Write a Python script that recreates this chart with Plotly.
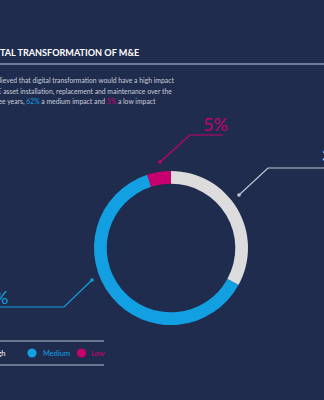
import plotly.graph_objects as go

# Impact of digital transformation on M&E asset work
categories = ["High", "Medium", "Low"]
shares = [33, 62, 5]
colors = ["#dcdcdc", "#12a0e3", "#c8006e"]

BG = "#1f2c4e"
TEXT = "#c9cdd9"
FONT = "Lato"

fig = go.Figure()

fig.add_trace(go.Pie(
    labels=categories,
    values=shares,
    hole=0.835,
    sort=False,
    direction="clockwise",
    rotation=0,
    marker=dict(colors=colors, line=dict(width=0)),
    textinfo="none",
    hoverinfo="label+percent",
    showlegend=False,
    domain=dict(x=[94 / 324, 248 / 324], y=[75 / 400, 229 / 400]),
))

shapes = []
annotations = []

# Title and rule
annotations.append(dict(x=141, y=52, xref="x", yref="y", xanchor="right", yanchor="middle",
                        text="<b>DIGITAL TRANSFORMATION OF M&amp;E</b>", showarrow=False,
                        font=dict(family=FONT, size=9.1, color="#ffffff")))
shapes.append(dict(type="line", x0=0, x1=324, y0=64, y1=64, xref="x", yref="y",
                   line=dict(color="#8d96b0", width=1.5)))

# Body copy
body = [
    ("33% believed that digital transformation would have a high impact", 176, 80),
    ("on M&amp;E asset installation, replacement and maintenance over the", 174, 91),
    ("next three years, <span style='color:#12a0e3'>62%</span> a medium impact and "
     "<span style='color:#c8006e'>5%</span> a low impact", 158, 101),
]
for txt, xr, yy in body:
    annotations.append(dict(x=xr, y=yy, xref="x", yref="y", xanchor="right", yanchor="middle",
                            text=txt, showarrow=False,
                            font=dict(family=FONT, size=6.8, color=TEXT)))

# Callouts: (label, line colour, dot, elbow, line end, text position, anchor, text colour)
callouts = [
    (f"{shares[2]}%", colors[2], (160, 162), (190, 135), (223, 135), (215, 124), "center", "#c8006e"),
    (f"{shares[0]}%", "#c2c8d8", (239, 195), (268, 168), (330, 168), (320, 155), "left", "#e6e8ee"),
    (f"{shares[1]}%", colors[1], (92, 280), (64, 307), (-10, 307), (10, 297), "right", colors[1]),
]
for label, lc, dot, elbow, end, tpos, anchor, tc in callouts:
    shapes.append(dict(type="path", xref="x", yref="y",
                       path=f"M {dot[0]} {dot[1]} L {elbow[0]} {elbow[1]} L {end[0]} {end[1]}",
                       line=dict(color=lc, width=1.2)))
    shapes.append(dict(type="circle", xref="x", yref="y",
                       x0=dot[0] - 1.8, x1=dot[0] + 1.8, y0=dot[1] - 1.8, y1=dot[1] + 1.8,
                       fillcolor=lc, line=dict(width=0)))
    annotations.append(dict(x=tpos[0], y=tpos[1], xref="x", yref="y", xanchor=anchor,
                            yanchor="middle", text=label, showarrow=False,
                            font=dict(family=FONT, size=18, color=tc)))

# Legend strip
for yy in (341, 365):
    shapes.append(dict(type="line", x0=0, x1=104, y0=yy, y1=yy, xref="x", yref="y",
                       line=dict(color="#b8bccb", width=1)))
legend_items = [
    (categories[0], "#ffffff", colors[0], -10, 7.5),
    (categories[1], colors[1], colors[1], 32, 40.5),
    (categories[2], colors[2], colors[2], 81.5, 89),
]
for name, tcol, ccol, cx, tx in legend_items:
    shapes.append(dict(type="circle", xref="x", yref="y",
                       x0=cx - 4.6, x1=cx + 4.6, y0=353 - 4.6, y1=353 + 4.6,
                       fillcolor=ccol, line=dict(width=0)))
    anchor = "right" if name == categories[0] else "left"
    annotations.append(dict(x=tx, y=353, xref="x", yref="y", xanchor=anchor, yanchor="middle",
                            text=name, showarrow=False,
                            font=dict(family=FONT, size=7.5, color=tcol)))

fig.update_layout(
    width=324, height=400,
    margin=dict(l=0, r=0, t=0, b=0),
    paper_bgcolor=BG, plot_bgcolor=BG,
    xaxis=dict(range=[0, 324], visible=False, domain=[0, 1], fixedrange=True),
    yaxis=dict(range=[400, 0], visible=False, domain=[0, 1], fixedrange=True),
    shapes=shapes,
    annotations=annotations,
    showlegend=False,
)

fig.write_html("out.html")
